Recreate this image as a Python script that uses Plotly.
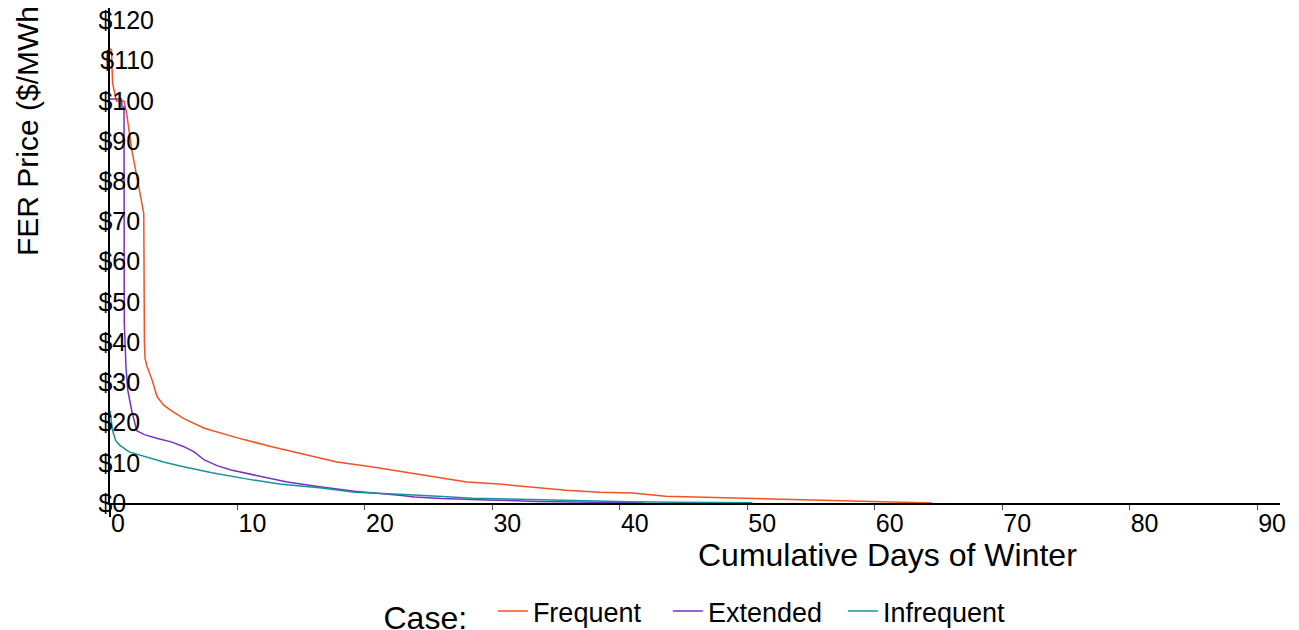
import plotly.graph_objects as go

# Frequent case
freq_days = [0.0, 0.12, 0.2, 0.5, 1.1, 1.3, 1.7, 2.2, 2.5, 2.65, 2.7, 2.75, 2.9, 3.3, 3.7, 4.2,
             4.8, 5.8, 7.4, 10.0, 12.7, 15.3, 17.8, 20.5, 23.1, 25.3, 28.0, 30.5, 33.1, 35.8,
             38.4, 41.0, 43.6, 46.2, 48.5, 51.0, 54.0, 57.5, 61.0, 64.5]
freq_price = [113, 112.6, 104.5, 100, 100, 97, 88, 80, 75, 72, 40, 36, 34, 30.6, 26.4, 24.4,
              23, 21, 18.6, 16.2, 14, 12, 10.2, 9, 7.7, 6.7, 5.2, 4.7, 4.0, 3.2,
              2.7, 2.5, 1.7, 1.5, 1.3, 1.1, 0.9, 0.7, 0.3, 0.0]

# Extended case
ext_days = [0.0, 0.9, 0.95, 1.1, 1.12, 1.25, 1.4, 1.7, 2.1, 2.7, 3.8, 4.8, 5.8, 6.6, 7.4, 8.4,
            9.5, 11.3, 13.9, 16.6, 19.2, 22.7, 23.9, 26.0, 27.6, 30.3, 33.5, 37.1, 40.7, 42.0]
ext_price = [100.5, 100.5, 98.5, 98.5, 45, 34, 28, 23, 18, 17, 16, 15.2, 14, 12.7, 10.7, 9.3,
             8.2, 7, 5.2, 4, 2.9, 1.9, 1.5, 1.1, 0.9, 0.7, 0.4, 0.25, 0.1, 0.0]

# Infrequent case
inf_days = [0.0, 0.1, 0.2, 0.45, 0.75, 1.5, 2.9, 4.2, 5.5, 8.0, 10.7, 13.3, 16.6, 19.2, 22.7,
            24.0, 26.1, 28.4, 31.9, 34.6, 38.8, 40.7, 44.4, 50.4]
inf_price = [23, 20, 18, 15.5, 14.4, 12.7, 11.4, 10.2, 9.2, 7.5, 6.0, 4.7, 3.7, 2.7, 2.2,
             1.9, 1.6, 1.2, 0.9, 0.7, 0.4, 0.3, 0.2, 0.05]

y_ticks = list(range(0, 121, 10))
y_tick_text = ["$" + str(v) for v in y_ticks]
x_ticks = list(range(0, 91, 10))
x_tick_text = [str(v) for v in x_ticks]

FONT = "Arial, Liberation Sans, sans-serif"
NB = "\u00a0"
# pad labels so the anchored labels line up on their left edge
y_tick_disp = [t + NB * 2 * (4 - len(t)) for t in y_tick_text]
x_tick_disp = [t + NB * 2 * (2 - len(t)) for t in x_tick_text]

# page body has an 8px margin, so the figure is drawn 8px smaller and offset
W, H = 1291, 622
L, R, T, B = 102, 19, 0, 127
PW = W - L - R
PH = H - T - B

fig = go.Figure()
fig.add_trace(go.Scatter(x=freq_days, y=freq_price, mode="lines", name="Frequent",
                         line=dict(color="#F05323", width=1.5)))
fig.add_trace(go.Scatter(x=ext_days, y=ext_price, mode="lines", name="Extended",
                         line=dict(color="#7A2FBF", width=1.5)))
fig.add_trace(go.Scatter(x=inf_days, y=inf_price, mode="lines", name="Infrequent",
                         line=dict(color="#14949A", width=1.5)))

fig.update_layout(
    width=W, height=H,
    margin=dict(l=L, r=R, t=T, b=B, autoexpand=False),
    paper_bgcolor="white", plot_bgcolor="white",
    font=dict(family=FONT, color="black"),
    showlegend=True,
    legend=dict(orientation="h", x=0.5 + 5 / PW, xanchor="center",
                y=(PH - 605) / PH, yanchor="middle",
                font=dict(size=27, family=FONT, color="black"),
                title=dict(text="Case:" + NB * 2, side="left",
                           font=dict(size=32, family=FONT, color="black")),
                entrywidth=130, entrywidthmode="pixels"),
    xaxis=dict(range=[0, 91.8], tickvals=x_ticks, ticktext=x_tick_disp,
               showgrid=False, zeroline=False, showline=True, linecolor="black", linewidth=2,
               ticks="outside", ticklen=5, tickcolor="#555", tickwidth=1, automargin=False,
               tickfont=dict(size=25, family=FONT, color="black"), ticklabelshift=15,
               ticklabelstandoff=-8, ticklabeloverflow="allow"),
    yaxis=dict(range=[0, 123.1], tickvals=y_ticks, ticktext=y_tick_disp,
               showgrid=False, zeroline=False, showline=True, linecolor="black", linewidth=2,
               ticks="", ticklabelposition="outside", ticklabelstandoff=-51, automargin=False,
               ticklabeloverflow="allow",
               tickfont=dict(size=25, family=FONT, color="black")),
    shapes=[dict(type="line", xref="paper", yref="paper", x0=0, x1=0, y0=0, y1=-14 / PH,
                 line=dict(color="black", width=2))],
    annotations=[
        dict(text="Cumulative Days of Winter", xref="paper", yref="paper",
             x=(879 - L) / PW, y=(PH - 547) / PH, xanchor="center", yanchor="middle",
             showarrow=False, font=dict(size=32, family=FONT, color="black")),
        dict(text="FER Price ($/MWh)", xref="paper", yref="paper", textangle=-90,
             x=(20 - L) / PW, y=(PH - 118) / PH, xanchor="center", yanchor="middle",
             showarrow=False, font=dict(size=30, family=FONT, color="black")),
    ],
)

fig.write_html("out.html")
